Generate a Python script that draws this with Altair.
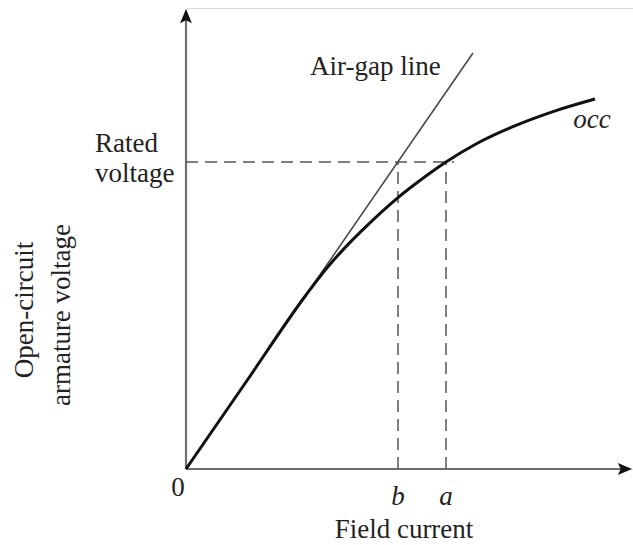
import altair as alt
import pandas as pd

# --- data (field current / voltage in arbitrary units) ---
field_current = [0.0, 0.6, 1.2, 1.4, 1.6, 1.8, 2.12, 2.4, 2.6, 2.9, 3.3, 3.7, 4.09]
occ_voltage = [0.0, 0.87, 1.74, 2.0, 2.224, 2.424, 2.714, 2.93, 3.07, 3.25, 3.436, 3.584, 3.70]
airgap_current = [0.0, 2.87]
airgap_voltage = [0.0, 4.16]
rated_voltage = 3.07
b_current = 2.12
a_current = 2.60
x_max = 4.47
y_max = 4.61

FONT = "Liberation Serif"
FS = 27
X = alt.Scale(domain=[0, x_max], nice=False, zero=False)
Y = alt.Scale(domain=[0, y_max], nice=False, zero=False)

occ_df = pd.DataFrame({"x": field_current, "y": occ_voltage})
air_df = pd.DataFrame({"x": airgap_current, "y": airgap_voltage})

def xe(f="x"):
    return alt.X(f"{f}:Q", scale=X, axis=None)

def ye(f="y"):
    return alt.Y(f"{f}:Q", scale=Y, axis=None)

# axes
xaxis = alt.Chart(pd.DataFrame({"x": [0.0], "x2": [x_max - 0.08], "y": [0.0]})).mark_rule(
    color="#6e6e6e", strokeWidth=2.2
).encode(x=xe(), x2="x2:Q", y=ye())
yaxis = alt.Chart(pd.DataFrame({"x": [0.0], "y": [0.0], "y2": [y_max - 0.08]})).mark_rule(
    color="#6e6e6e", strokeWidth=2.2
).encode(x=xe(), y=ye(), y2="y2:Q")
arrow_r = alt.Chart(pd.DataFrame({"x": [x_max - 0.01], "y": [0.0]})).mark_point(
    shape="M0,0 L-1,-0.42 L-0.8,0 L-1,0.42 Z", size=800, filled=True, color="#111", opacity=1
).encode(x=xe(), y=ye())
arrow_u = alt.Chart(pd.DataFrame({"x": [0.0], "y": [y_max - 0.01]})).mark_point(
    shape="M0,0 L-0.42,1 L0,0.8 L0.42,1 Z", size=800, filled=True, color="#111", opacity=1
).encode(x=xe(), y=ye())

# dashed guides
hdash = alt.Chart(pd.DataFrame({"x": [0.0], "x2": [a_current + 0.08], "y": [rated_voltage]})).mark_rule(
    color="#555", strokeWidth=1.5, strokeDash=[12, 7]
).encode(x=xe(), x2="x2:Q", y=ye())
vdash = alt.Chart(pd.DataFrame({"x": [b_current, a_current], "y": [0.0, 0.0],
                                "y2": [rated_voltage, rated_voltage]})).mark_rule(
    color="#555", strokeWidth=1.5, strokeDash=[12, 7]
).encode(x=xe(), y=ye(), y2="y2:Q")

# curves
air = alt.Chart(air_df).mark_line(color="#4a4a4a", strokeWidth=1.6).encode(x=xe(), y=ye())
occ = alt.Chart(occ_df).mark_line(color="#111", strokeWidth=3, interpolate="monotone").encode(
    x=xe(), y=ye(), order="x:Q"
)

# text labels
normal_labels = pd.DataFrame({
    "text": ["Rated", "voltage", "Air-gap line", "0", "Field current"],
    "x": [-0.91, -0.91, 1.24, -0.08, 2.18],
    "y": [3.17, 2.87, 3.94, -0.27, -0.69],
    "align": ["left", "left", "left", "center", "center"],
})
t_left = alt.Chart(normal_labels[normal_labels["align"] == "left"]).mark_text(
    font=FONT, fontSize=FS, align="left", baseline="alphabetic", color="#222"
).encode(x=xe(), y=ye(), text="text:N")
t_center = alt.Chart(normal_labels[normal_labels["align"] == "center"]).mark_text(
    font=FONT, fontSize=FS, align="center", baseline="alphabetic", color="#222"
).encode(x=xe(), y=ye(), text="text:N")

italic_labels = pd.DataFrame({
    "text": ["occ", "b", "a"],
    "x": [4.06, b_current, a_current],
    "y": [3.41, -0.36, -0.36],
})
t_ital = alt.Chart(italic_labels).mark_text(
    font=FONT, fontSize=FS, fontStyle="italic", align="center", baseline="alphabetic", color="#222"
).encode(x=xe(), y=ye(), text="text:N")

ytitle = pd.DataFrame({
    "text": ["Open-circuit", "armature voltage"],
    "x": [-1.53, -1.16],
    "y": [1.59, 1.54],
})
t_rot = alt.Chart(ytitle).mark_text(
    font=FONT, fontSize=FS, angle=270, align="center", baseline="alphabetic", color="#222"
).encode(x=xe(), y=ye(), text="text:N")

chart = alt.layer(
    xaxis, yaxis, hdash, vdash, air, occ, arrow_r, arrow_u, t_left, t_center, t_ital, t_rot
).properties(
    width=447, height=461,
    autosize=alt.AutoSizeParams(type="none"),
    padding={"left": 186, "top": 8, "right": 0, "bottom": 76},
).configure_view(stroke=None).configure(background="white")

chart.save("out.html", embed_options={"renderer": "svg", "actions": False})
